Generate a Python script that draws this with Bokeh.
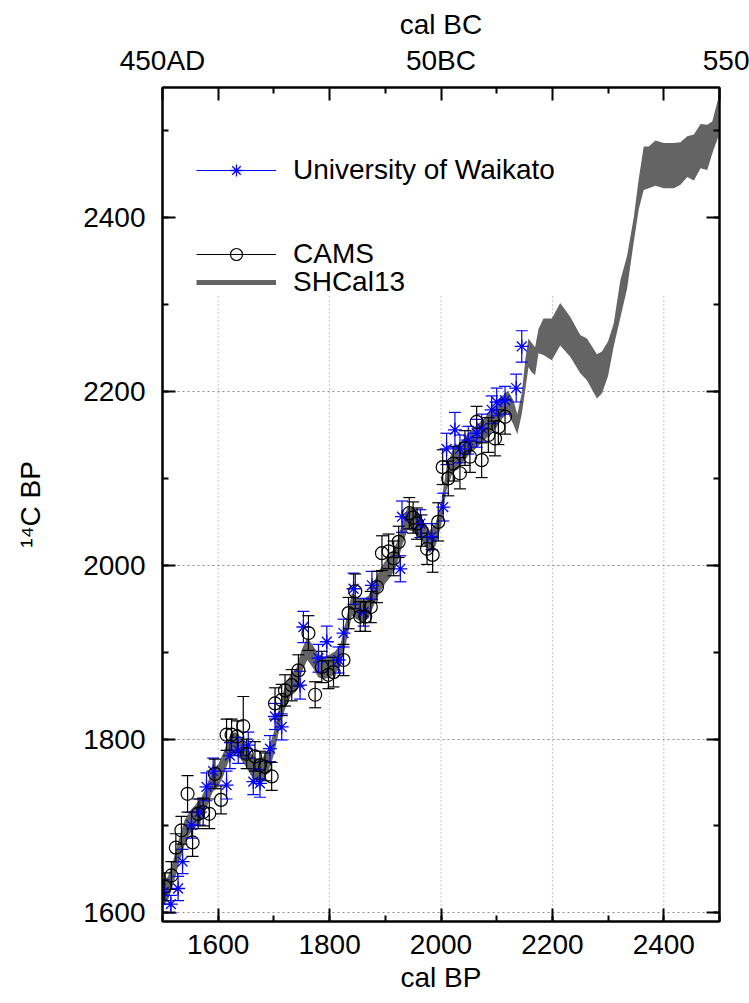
from bokeh.plotting import figure
from bokeh.models import (Range1d, LinearAxis, SingleIntervalTicker, FixedTicker, Grid,
                          Legend, LegendItem, ColumnDataSource)
from bokeh.embed import file_html
from bokeh.resources import INLINE

FONT = "Liberation Sans"
NAN = float("nan")

# ---------------- data ----------------
# SHCal13 band (cal BP, lower / upper 14C BP)
band_bp = [1500, 1510, 1520, 1530, 1540, 1550, 1560, 1570, 1580, 1590,
           1600, 1610, 1620, 1630, 1640, 1650, 1660, 1670, 1680, 1690,
           1700, 1710, 1720, 1730, 1740, 1750, 1760, 1770, 1780, 1790,
           1800, 1810, 1820, 1830, 1840, 1850, 1860, 1870, 1880, 1890,
           1900, 1910, 1920, 1930, 1940, 1950, 1960, 1970, 1980, 1990,
           2000, 2010, 2020, 2030, 2040, 2050, 2060, 2070, 2080, 2090,
           2100, 2110, 2120, 2130,
           2137, 2145, 2152, 2157, 2163, 2169, 2175, 2184, 2199, 2214, 2232, 2250,
           2262, 2280, 2289, 2300, 2310, 2322, 2334, 2346, 2355, 2364, 2373, 2385,
           2400, 2418, 2430, 2442, 2454, 2466, 2478, 2487, 2500]
band_lower = [1607, 1615, 1634, 1658, 1679, 1692, 1699, 1707, 1722, 1739,
              1745, 1759, 1777, 1782, 1777, 1768, 1757, 1751, 1753, 1762,
              1782, 1812, 1835, 1849, 1855, 1877, 1891, 1882, 1871, 1869,
              1871, 1875, 1884, 1912, 1942, 1937, 1935, 1939, 1955, 1969,
              1979, 1987, 1999, 2022, 2041, 2039, 2033, 2023, 2014, 2022,
              2045, 2087, 2105, 2113, 2119, 2127, 2133, 2139, 2145, 2153,
              2159, 2169, 2175, 2162,
              2151, 2174, 2205, 2228, 2222, 2219, 2244, 2242, 2236, 2253, 2240, 2221,
              2213, 2192, 2198, 2218, 2252, 2285, 2318, 2372, 2410, 2432, 2434, 2437,
              2434, 2434, 2438, 2447, 2443, 2457, 2455, 2474, 2497]
band_upper = [1634, 1642, 1662, 1686, 1707, 1718, 1725, 1733, 1748, 1765,
              1771, 1785, 1803, 1808, 1803, 1794, 1783, 1777, 1779, 1788,
              1808, 1838, 1861, 1875, 1881, 1903, 1917, 1908, 1897, 1895,
              1897, 1901, 1910, 1938, 1968, 1963, 1961, 1965, 1981, 1995,
              2005, 2013, 2025, 2048, 2067, 2065, 2059, 2049, 2040, 2048,
              2071, 2113, 2131, 2139, 2145, 2153, 2159, 2165, 2171, 2179,
              2185, 2195, 2201, 2190,
              2174, 2198, 2240, 2261, 2256, 2251, 2272, 2284, 2284, 2302, 2286, 2265,
              2261, 2243, 2246, 2258, 2278, 2328, 2356, 2400, 2445, 2482, 2482, 2489,
              2486, 2486, 2487, 2494, 2496, 2508, 2507, 2511, 2543]

# University of Waikato
wk_bp = [1502, 1515, 1528, 1536, 1552, 1567, 1579, 1591, 1615, 1621,
         1636, 1654, 1663, 1675, 1693, 1702, 1714, 1747, 1753, 1780,
         1795, 1816, 1825, 1843, 1861, 1876, 1927, 1930, 1963, 1983,
         2004, 2010, 2025, 2034, 2049, 2064, 2073, 2091, 2100, 2115,
         2135, 2145]
wk_c14 = [1624, 1610, 1628, 1659, 1701, 1716, 1745, 1763, 1747, 1781,
          1787, 1793, 1751, 1749, 1789, 1826, 1814, 1862, 1929, 1893,
          1912, 1891, 1922, 1973, 1946, 1977, 1996, 2056, 2048, 2033,
          2067, 2134, 2156, 2134, 2144, 2152, 2158, 2179, 2188, 2190,
          2204, 2252]
wk_err = [14, 10, 14, 14, 15, 15, 16, 15, 16, 15,
          15, 15, 15, 16, 15, 15, 15, 16, 18, 16,
          18, 15, 16, 18, 16, 16, 15, 18, 16, 15,
          16, 18, 20, 16, 16, 16, 16, 16, 16, 16,
          16, 18]

# CAMS
cams_bp = [1504, 1516, 1524, 1534, 1545, 1554, 1564, 1573, 1584, 1594,
           1605, 1615, 1624, 1634, 1645, 1651, 1666, 1675, 1684, 1696,
           1702, 1714, 1720, 1732, 1744, 1762, 1774, 1786, 1798, 1807,
           1825, 1834, 1846, 1855, 1864, 1874, 1885, 1894, 1906, 1915,
           1924, 1943, 1950, 1957, 1965, 1975, 1985, 1995, 2003, 2013,
           2022, 2034, 2043, 2052, 2064, 2073, 2085, 2097, 2103, 2115]
cams_c14 = [1630, 1643, 1675, 1695, 1737, 1681, 1714, 1716, 1714, 1760,
            1730, 1805, 1805, 1803, 1815, 1783, 1780, 1770, 1768, 1757,
            1841, 1845, 1856, 1862, 1879, 1922, 1851, 1883, 1874, 1877,
            1891, 1945, 1970, 1941, 1941, 1952, 1975, 2014, 2016, 2008,
            2027, 2060, 2055, 2048, 2040, 2019, 2012, 2050, 2113, 2100,
            2117, 2106, 2135, 2125, 2165, 2121, 2150, 2146, 2159, 2171]
cams_err = [16, 16, 16, 16, 21, 16, 17, 16, 17, 17,
            16, 18, 18, 18, 34, 17, 17, 16, 16, 16,
            18, 18, 18, 18, 18, 20, 15, 18, 16, 17,
            18, 18, 20, 17, 17, 18, 18, 20, 20, 20,
            18, 18, 18, 18, 18, 18, 20, 22, 20, 20,
            20, 18, 20, 18, 18, 20, 20, 20, 20, 20]

x_grid_ticks = [1600, 1800, 2000, 2200, 2400]
y_grid_ticks = [1600, 1800, 2000, 2200]
grid_top = 2310
# top (cal BC) axis
top_major = [1500, 1600, 1800, 2000, 2200, 2400, 2500]
top_minor = [1700, 1900, 2100, 2300]
top_labels = {1500: "450AD", 2000: "50BC", 2500: "\u00a0\u00a0550"}

# ---------------- figure ----------------
p = figure(x_range=Range1d(1500, 2500), y_range=Range1d(1590, 2550),
           frame_width=557, frame_height=834,
           min_border_left=162, min_border_right=30, min_border_top=87, min_border_bottom=82,
           x_axis_type=None, y_axis_type=None,
           output_backend="svg", toolbar_location=None)
p.outline_line_color = "black"
p.outline_line_width = 2
p.background_fill_color = "white"
p.border_fill_color = "white"


def style_axis(ax):
    ax.axis_line_color = "black"
    ax.axis_line_width = 2
    ax.major_tick_in = 13
    ax.major_tick_out = 0
    ax.minor_tick_in = 6
    ax.minor_tick_out = 0
    ax.major_tick_line_width = 2
    ax.minor_tick_line_width = 2
    ax.major_label_text_font = FONT
    ax.major_label_text_font_size = "28px"
    ax.major_label_text_color = "black"
    ax.axis_label_text_font = FONT
    ax.axis_label_text_font_size = "28px"
    ax.axis_label_text_font_style = "normal"
    ax.axis_label_text_color = "black"
    return ax


bottom = style_axis(LinearAxis(ticker=SingleIntervalTicker(interval=200, num_minor_ticks=2)))
bottom.axis_label = "cal BP"
bottom.major_label_standoff = 13
bottom.axis_label_standoff = 5
p.add_layout(bottom, "below")

left = style_axis(LinearAxis(ticker=SingleIntervalTicker(interval=200, num_minor_ticks=2)))
left.axis_label = "\u00b9\u2074C BP"
left.major_label_standoff = 17
left.axis_label_standoff = 34
p.add_layout(left, "left")

top = style_axis(LinearAxis(ticker=FixedTicker(ticks=top_major, minor_ticks=top_minor)))
top.axis_label = "cal BC"
top.major_label_overrides = {v: top_labels.get(v, "") for v in top_major}
top.major_label_standoff = 12
top.axis_label_standoff = 2
p.add_layout(top, "above")

right = style_axis(LinearAxis(ticker=SingleIntervalTicker(interval=200, num_minor_ticks=2)))
right.major_label_overrides = {v: "" for v in range(1400, 2800, 200)}
right.major_label_standoff = 0
p.add_layout(right, "right")

# horizontal grid
ygrid = Grid(dimension=1, ticker=FixedTicker(ticks=y_grid_ticks),
             grid_line_color="#8c8c8c", grid_line_dash="2 3", grid_line_width=1)
p.add_layout(ygrid)

# vertical grid (stops below the legend area)
gsrc = ColumnDataSource(dict(x=x_grid_ticks, y0=[1590] * len(x_grid_ticks),
                             y1=[grid_top] * len(x_grid_ticks)))
p.segment(x0="x", y0="y0", x1="x", y1="y1", source=gsrc, line_color="#8c8c8c",
          line_dash="1 3", line_width=1, level="underlay")

# SHCal13 band
band_src = ColumnDataSource(dict(x=band_bp, lo=band_lower, hi=band_upper))
p.varea(x="x", y1="lo", y2="hi", source=band_src, fill_color="#646464")
shcal_key = p.line(x=[NAN, NAN], y=[NAN, NAN], line_color="#646464", line_width=5)

# Waikato
wk_src = ColumnDataSource(dict(x=wk_bp, y=wk_c14,
                               lo=[c - e for c, e in zip(wk_c14, wk_err)],
                               hi=[c + e for c, e in zip(wk_c14, wk_err)]))
wk_seg = p.segment(x0="x", y0="lo", x1="x", y1="hi", source=wk_src,
                   line_color="#0000ff", line_width=1.2)
p.scatter(x="x", y="lo", marker="dash", size=12, line_color="#0000ff", line_width=1.2, source=wk_src)
p.scatter(x="x", y="hi", marker="dash", size=12, line_color="#0000ff", line_width=1.2, source=wk_src)

# CAMS
cams_src = ColumnDataSource(dict(x=cams_bp, y=cams_c14,
                                 lo=[c - e for c, e in zip(cams_c14, cams_err)],
                                 hi=[c + e for c, e in zip(cams_c14, cams_err)]))
cams_seg = p.segment(x0="x", y0="lo", x1="x", y1="hi", source=cams_src,
                     line_color="black", line_width=1.2)
p.scatter(x="x", y="lo", marker="dash", size=12, line_color="black", line_width=1.2, source=cams_src)
p.scatter(x="x", y="hi", marker="dash", size=12, line_color="black", line_width=1.2, source=cams_src)

wk_pts = p.scatter(x="x", y="y", marker="asterisk", size=14, line_color="#0000ff",
                   line_width=1.3, source=wk_src)
cams_pts = p.scatter(x="x", y="y", marker="circle", size=13, fill_color=None,
                     line_color="black", line_width=1.2, source=cams_src)


# legends
def add_legend(label, renderers, vy):
    lg = Legend(items=[LegendItem(label=label, renderers=renderers)],
                location=(34, vy), orientation="vertical",
                padding=0, margin=0, spacing=0,
                border_line_color=None, background_fill_alpha=0,
                glyph_width=80, glyph_height=30, label_height=30, label_standoff=17,
                label_text_font=FONT, label_text_font_size="28px",
                label_text_color="black")
    p.add_layout(lg)


add_legend("University of Waikato", [wk_seg, wk_pts], 735)
add_legend("CAMS", [cams_seg, cams_pts], 651)
add_legend("SHCal13", [shcal_key], 623)

open("out.html", "w").write(file_html(p, INLINE))
